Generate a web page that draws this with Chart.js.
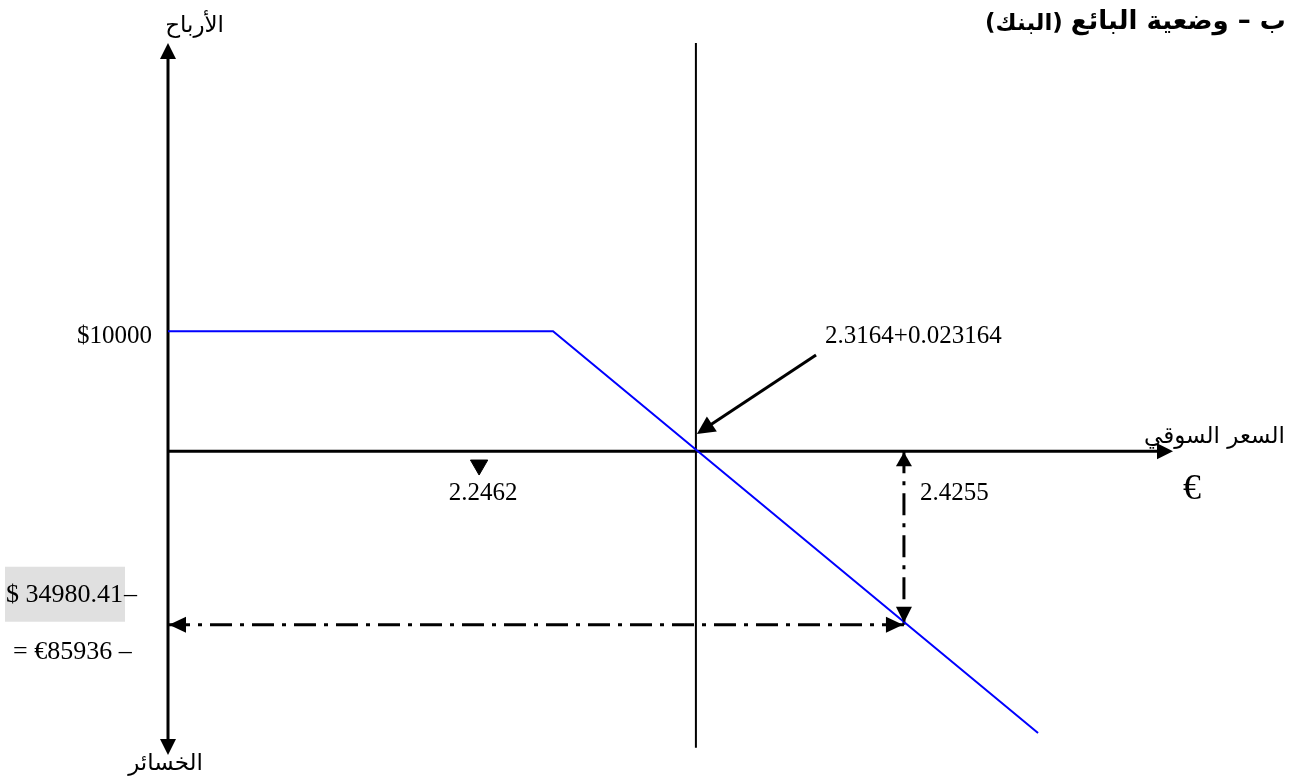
<!DOCTYPE html>
<html>
<head>
<meta charset="utf-8">
<script src="https://cdn.jsdelivr.net/npm/chart.js"></script>
<style>
  html, body { margin: 0; padding: 0; background: #fff; }
  #wrap { width: 1298px; height: 778px; position: relative; }
</style>
</head>
<body>
<div id="wrap"><canvas id="payoff"></canvas></div>
<script>
// price axis (schematic) and profit axis in $
const xRange = [2.115, 2.540];
const yRange = [-25300, 34000];

// seller payoff line
const prices = [2.115, 2.2775, 2.4822];
const payoff = [10000, 10000, -23470];

// reference points
const premium = 10000;
const breakEven = 2.3378;
const spotPrice = 2.4256;
const lossAtSpot = -14450;
const markerPrice = 2.2463;
const markerLevel = -1150;
const breakEvenLine = [34000, -24700];
const noteFrom = [2.3885, 8012];
const noteTo = [2.3382, 1433];

const labels = {
  title: 'ب – وضعية البائع',
  titleSub: '(البنك)',
  profits: 'الأرباح',
  losses: 'الخسائر',
  market: 'السعر السوقي',
  premium: '$10000',
  marker: '2.2462',
  spot: '2.4255',
  breakEven: '2.3164+0.023164',
  lossUsd: '$ 34980.41',
  lossEur: '= €85936 –'
};

const SERIF = '"Liberation Serif", "Times New Roman", serif';
const ARABIC = '"DejaVu Sans", sans-serif';

function head(ctx, x1, y1, x2, y2, len, half) {
  const a = Math.atan2(y2 - y1, x2 - x1);
  ctx.beginPath();
  ctx.moveTo(x2, y2);
  ctx.lineTo(x2 - len * Math.cos(a) + half * Math.sin(a), y2 - len * Math.sin(a) - half * Math.cos(a));
  ctx.lineTo(x2 - len * Math.cos(a) - half * Math.sin(a), y2 - len * Math.sin(a) + half * Math.cos(a));
  ctx.closePath();
  ctx.fill();
}

const axesPlugin = {
  id: 'axesPlugin',
  beforeDatasetsDraw(chart) {
    const ctx = chart.ctx;
    const px = v => chart.scales.x.getPixelForValue(v);
    const py = v => chart.scales.y.getPixelForValue(v);
    ctx.save();
    ctx.strokeStyle = '#000';
    ctx.fillStyle = '#000';
    ctx.lineWidth = 3;
    // y axis with arrows both ends
    const x0 = px(xRange[0]);
    ctx.beginPath();
    ctx.moveTo(x0, py(yRange[1]) + 10);
    ctx.lineTo(x0, py(yRange[0]) - 10);
    ctx.stroke();
    head(ctx, x0, py(yRange[0]), x0, py(yRange[1]), 16, 8);
    head(ctx, x0, py(yRange[1]), x0, py(yRange[0]), 16, 8);
    // x axis
    const y0 = py(0);
    ctx.beginPath();
    ctx.moveTo(x0, y0);
    ctx.lineTo(px(xRange[1]) - 10, y0);
    ctx.stroke();
    ctx.restore();
  },
  afterDatasetsDraw(chart) {
    const ctx = chart.ctx;
    const px = v => chart.scales.x.getPixelForValue(v);
    const py = v => chart.scales.y.getPixelForValue(v);
    ctx.save();
    ctx.fillStyle = '#000';
    ctx.strokeStyle = '#000';
    const y0 = py(0);
    const x0 = px(xRange[0]);

    // x axis arrow head
    head(ctx, x0, y0, px(xRange[1]) - 2, y0, 16, 8);

    // dash-dot arrows
    const sx = px(spotPrice), ly = py(lossAtSpot);
    head(ctx, sx, ly, sx, y0 + 1, 14, 8);
    head(ctx, sx, y0, sx, ly - 2, 16, 8);
    head(ctx, sx, ly, x0 + 1, ly, 17, 8);
    head(ctx, x0, ly, sx - 1, ly, 17, 8);

    // note arrow
    ctx.lineWidth = 3;
    const ax1 = px(noteFrom[0]), ay1 = py(noteFrom[1]);
    const ax2 = px(noteTo[0]), ay2 = py(noteTo[1]);
    ctx.beginPath();
    ctx.moveTo(ax1, ay1);
    ctx.lineTo(ax1 + (ax2 - ax1) * 0.9, ay1 + (ay2 - ay1) * 0.9);
    ctx.stroke();
    head(ctx, ax1, ay1, ax2, ay2, 18, 9);

    // numeric labels
    ctx.font = '25px ' + SERIF;
    ctx.textBaseline = 'middle';
    ctx.textAlign = 'right';
    ctx.fillText(labels.premium, x0 - 16, py(premium) + 5);
    ctx.textAlign = 'center';
    ctx.fillText(labels.marker, px(markerPrice) + 4, y0 + 42);
    ctx.textAlign = 'left';
    ctx.fillText(labels.spot, sx + 16, y0 + 42);
    ctx.fillText(labels.breakEven, ax1 + 9, ay1 - 19);

    // loss boxes on the left
    ctx.fillStyle = '#e0e0e0';
    ctx.fillRect(5, ly - 58, 120, 55);
    ctx.fillStyle = '#000';
    ctx.font = '26px ' + SERIF;
    ctx.fillText(labels.lossUsd, 6, ly - 30);
    ctx.fillText('–', 124, ly - 30);
    ctx.fillText(labels.lossEur, 13, ly + 27);

    // euro sign
    ctx.font = '36px ' + SERIF;
    ctx.textAlign = 'center';
    ctx.fillText('€', 1192, y0 + 38);

    // arabic labels
    ctx.direction = 'rtl';
    ctx.textAlign = 'right';
    ctx.font = '23px ' + ARABIC;
    ctx.fillText(labels.profits, 224, 26);
    ctx.fillText(labels.losses, 203, 764);
    ctx.fillText(labels.market, 1285, y0 - 14);

    ctx.font = 'bold 26px ' + ARABIC;
    ctx.fillText(labels.title, 1286, 22);
    const w = ctx.measureText(labels.title).width;
    ctx.font = 'bold 23px ' + ARABIC;
    ctx.fillText(labels.titleSub, 1286 - w - 8, 24);
    ctx.restore();
  }
};

const dashDot = [22, 8, 4, 8];

new Chart(document.getElementById('payoff'), {
  type: 'scatter',
  data: {
    datasets: [
      {
        data: prices.map((p, i) => ({ x: p, y: payoff[i] })),
        showLine: true,
        borderColor: '#0000ff',
        borderWidth: 2,
        pointRadius: 0
      },
      {
        data: breakEvenLine.map(v => ({ x: breakEven, y: v })),
        showLine: true,
        borderColor: '#000',
        borderWidth: 2,
        pointRadius: 0
      },
      {
        data: [{ x: xRange[0], y: lossAtSpot }, { x: spotPrice, y: lossAtSpot }],
        showLine: true,
        borderColor: '#000',
        borderWidth: 3,
        borderDash: dashDot,
        pointRadius: 0
      },
      {
        data: [{ x: spotPrice, y: 0 }, { x: spotPrice, y: lossAtSpot }],
        showLine: true,
        borderColor: '#000',
        borderWidth: 3,
        borderDash: dashDot,
        pointRadius: 0
      },
      {
        data: [{ x: markerPrice, y: markerLevel }],
        pointStyle: 'triangle',
        rotation: 180,
        radius: 10,
        backgroundColor: '#000',
        borderColor: '#000'
      }
    ]
  },
  options: {
    responsive: true,
    maintainAspectRatio: false,
    animation: false,
    layout: { padding: { left: 168, right: 123, top: 43, bottom: 23 } },
    plugins: { legend: { display: false }, tooltip: { enabled: false } },
    scales: {
      x: { type: 'linear', min: xRange[0], max: xRange[1], display: false },
      y: { type: 'linear', min: yRange[0], max: yRange[1], display: false }
    }
  },
  plugins: [axesPlugin]
});
</script>
</body>
</html>
